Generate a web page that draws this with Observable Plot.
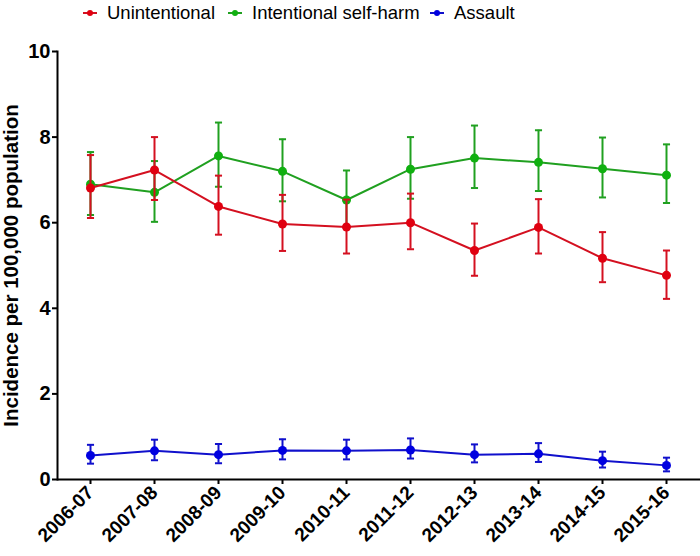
<!DOCTYPE html>
<html>
<head>
<meta charset="utf-8">
<script src="https://cdn.jsdelivr.net/npm/d3@7"></script>
<script src="https://cdn.jsdelivr.net/npm/@observablehq/plot@0.6"></script>
<style>
  body { margin: 0; background: #fff; font-family: "Liberation Sans", Arial, sans-serif; }
  #legend { height: 30px; position: relative; width: 700px; }
  .item { position: absolute; top: 0; display: flex; align-items: center; height: 25px; font-size: 18.5px; color: #000; }
  .item svg { margin-right: 10px; }
</style>
</head>
<body>
<div id="legend"></div>
<div id="chart"></div>
<script>
const years = ["2006-07","2007-08","2008-09","2009-10","2010-11","2011-12","2012-13","2013-14","2014-15","2015-16"];
const seriesNames = ["Unintentional", "Intentional self-harm", "Assault"];
const seriesColors = ["#e00010", "#10b010", "#0000e0"];
const lineColors = ["#d41020", "#20a020", "#1010cc"];

const unintentional      = [6.81, 7.23, 6.38, 5.97, 5.90, 6.00, 5.35, 5.89, 5.17, 4.77];
const unintentionalLow   = [6.11, 6.53, 5.72, 5.34, 5.28, 5.38, 4.76, 5.28, 4.61, 4.22];
const unintentionalHigh  = [7.58, 8.00, 7.10, 6.65, 6.54, 6.68, 5.98, 6.55, 5.78, 5.35];

const selfHarm     = [6.90, 6.71, 7.56, 7.20, 6.53, 7.25, 7.51, 7.41, 7.26, 7.11];
const selfHarmLow  = [6.18, 6.02, 6.84, 6.50, 5.86, 6.56, 6.81, 6.74, 6.59, 6.46];
const selfHarmHigh = [7.65, 7.44, 8.34, 7.95, 7.22, 8.00, 8.27, 8.16, 7.99, 7.83];

const assault     = [0.56, 0.67, 0.58, 0.68, 0.67, 0.69, 0.58, 0.60, 0.44, 0.33];
const assaultLow  = [0.37, 0.45, 0.38, 0.47, 0.47, 0.49, 0.40, 0.41, 0.28, 0.19];
const assaultHigh = [0.81, 0.93, 0.83, 0.94, 0.93, 0.96, 0.82, 0.85, 0.65, 0.51];

const yTicks = [0, 2, 4, 6, 8, 10];

const build = (vals, lo, hi, name) => years.map((y, i) => ({year: y, value: vals[i], low: lo[i], high: hi[i], series: name}));
const dataU = build(unintentional, unintentionalLow, unintentionalHigh, seriesNames[0]);
const dataS = build(selfHarm, selfHarmLow, selfHarmHigh, seriesNames[1]);
const dataA = build(assault, assaultLow, assaultHigh, seriesNames[2]);

// horizontal cap symbol
const capSymbol = {draw(ctx, size) { const h = Math.sqrt(size) / 2; ctx.moveTo(-h, 0); ctx.lineTo(h, 0); }};

function seriesMarks(data, idx) {
  const c = seriesColors[idx], lc = lineColors[idx];
  return [
    Plot.ruleX(data, {x: "year", y1: "low", y2: "high", stroke: lc, strokeWidth: 2}),
    Plot.dot(data, {x: "year", y: "low", symbol: capSymbol, r: 4, stroke: lc, strokeWidth: 2, fill: "none"}),
    Plot.dot(data, {x: "year", y: "high", symbol: capSymbol, r: 4, stroke: lc, strokeWidth: 2, fill: "none"}),
    Plot.line(data, {x: "year", y: "value", stroke: lc, strokeWidth: 2}),
    Plot.dot(data, {x: "year", y: "value", fill: c, r: 4.5})
  ];
}

const chart = Plot.plot({
  width: 700,
  height: 526,
  marginTop: 21,
  marginBottom: 77,
  marginLeft: 57,
  marginRight: 0,
  style: {fontFamily: "'Liberation Sans', Arial, sans-serif", background: "#fff", color: "#000", overflow: "visible"},
  x: {type: "point", domain: years, range: [89.5, 667], padding: 0},
  y: {domain: [0, 10], ticks: yTicks},
  marks: [
    Plot.axisY({ticks: yTicks, tickSize: 5, tickPadding: 2, tickFormat: d => d, fontSize: 20, fontWeight: "bold", label: null, strokeWidth: 2}),
    Plot.text(["Incidence per 100,000 population"], {frameAnchor: "left", textAnchor: "middle", rotate: -90, dx: -46, fontSize: 20.5, fontWeight: "bold", text: d => d}),
    Plot.axisX({tickSize: 5, tickRotate: -45, fontSize: 19, fontWeight: "bold", label: null, strokeWidth: 2, tickPadding: 5}),
    ...seriesMarks(dataA, 2),
    ...seriesMarks(dataS, 1),
    ...seriesMarks(dataU, 0),
    Plot.frame({anchor: "left", stroke: "#000", strokeWidth: 2}),
    Plot.ruleY([0], {stroke: "#000", strokeWidth: 2})
  ]
});
document.getElementById("chart").appendChild(chart);

// legend
const legend = document.getElementById("legend");
const lefts = [83, 228, 430];
seriesNames.forEach((name, i) => {
  const div = document.createElement("div");
  div.className = "item";
  div.style.left = lefts[i] + "px";
  div.innerHTML = `<svg width="14" height="10"><line x1="0" y1="5" x2="14" y2="5" stroke="${lineColors[i]}" stroke-width="2"/><circle cx="7" cy="5" r="3" fill="${seriesColors[i]}"/></svg><span>${name}</span>`;
  legend.appendChild(div);
});
</script>
</body>
</html>
